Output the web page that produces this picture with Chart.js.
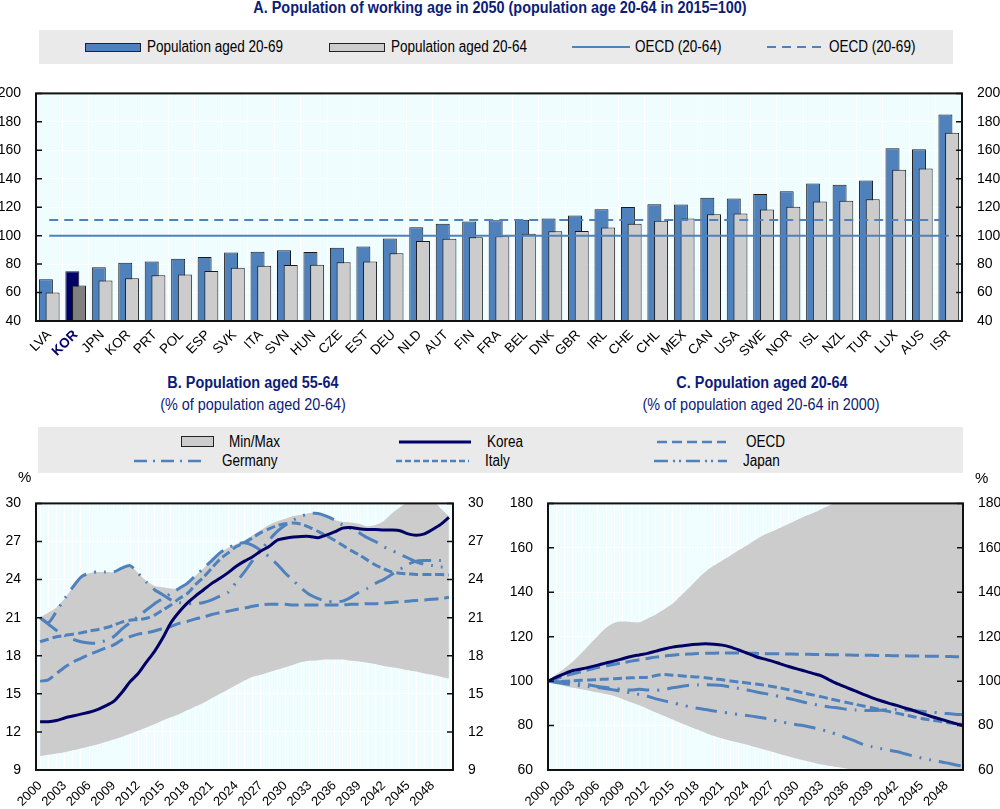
<!DOCTYPE html>
<html>
<head>
<meta charset="utf-8">
<title>Working-age population</title>
<script src="https://cdn.jsdelivr.net/npm/chart.js@4.4.1/dist/chart.umd.min.js"></script>
<style>
  body { margin: 0; background: #fff; }
  #page { position: relative; width: 1000px; height: 809px; overflow: hidden;
          font-family: 'Liberation Sans', Arial, sans-serif; }
  .abs { position: absolute; }
  .title { color: #0c1c78; font-weight: bold; font-size: 16px; text-align: center; white-space: nowrap;
           line-height: 18px; transform: scaleX(0.9); }
  .sub { color: #0c1c78; font-size: 16px; text-align: center; white-space: nowrap; line-height: 18px;
         transform: scaleX(0.9); }
  .legbox { background: #eaeaea; }
  .lt { font-size: 16px; line-height: 18px; color: #000; white-space: nowrap;
        transform: scaleX(0.845); transform-origin: left center; }
  .pct { font-size: 15px; line-height: 18px; color: #000; }
  canvas { position: absolute; }
</style>
</head>
<body>
<div id="page">
  <div class="abs title" style="left:0;top:-1px;width:1000px">A. Population of working age in 2050 (population age 20-64 in 2015=100)</div>

  <div class="abs legbox" style="left:39px;top:30px;width:914px;height:34px"></div>
  <div class="abs" style="left:85px;top:43px;width:54px;height:7px;background:#4f81bd;border:1px solid #222"></div>
  <div class="abs lt" style="left:147px;top:38px">Population aged 20-69</div>
  <div class="abs" style="left:329px;top:43px;width:54px;height:7px;background:#cccccc;border:1px solid #222"></div>
  <div class="abs lt" style="left:391px;top:38px">Population aged 20-64</div>
  <svg class="abs" style="left:572px;top:42px" width="58" height="10"><line x1="0" y1="5" x2="58" y2="5" stroke="#4f81bd" stroke-width="2"/></svg>
  <div class="abs lt" style="left:635px;top:38px">OECD (20-64)</div>
  <svg class="abs" style="left:767px;top:42px" width="54" height="10"><line x1="0" y1="5" x2="54" y2="5" stroke="#4f81bd" stroke-width="2" stroke-dasharray="9,6"/></svg>
  <div class="abs lt" style="left:829px;top:38px">OECD (20-69)</div>

  <canvas id="chartA" width="1000" height="290" style="left:0;top:70px"></canvas>

  <div class="abs title" style="left:3px;top:374px;width:500px">B. Population aged 55-64</div>
  <div class="abs sub" style="left:3px;top:396px;width:500px">(% of population aged 20-64)</div>
  <div class="abs title" style="left:512px;top:374px;width:500px">C. Population aged 20-64</div>
  <div class="abs sub" style="left:511px;top:396px;width:500px">(% of population aged 20-64 in 2000)</div>

  <div class="abs legbox" style="left:38px;top:427px;width:925px;height:46px"></div>
  <div class="abs" style="left:181px;top:436px;width:31px;height:9px;background:#cccccc;border:1px solid #222"></div>
  <div class="abs lt" style="left:229px;top:433px">Min/Max</div>
  <svg class="abs" style="left:399px;top:437px" width="72" height="10"><line x1="0" y1="5" x2="72" y2="5" stroke="#000066" stroke-width="3"/></svg>
  <div class="abs lt" style="left:487px;top:433px">Korea</div>
  <svg class="abs" style="left:657px;top:437px" width="69" height="10"><line x1="0" y1="5" x2="69" y2="5" stroke="#4f81bd" stroke-width="2.5" stroke-dasharray="10,5"/></svg>
  <div class="abs lt" style="left:746px;top:433px">OECD</div>
  <svg class="abs" style="left:134px;top:456px" width="72" height="10"><line x1="0" y1="5" x2="72" y2="5" stroke="#4f81bd" stroke-width="2.5" stroke-dasharray="13,6,2,6"/></svg>
  <div class="abs lt" style="left:222px;top:452px">Germany</div>
  <svg class="abs" style="left:396px;top:456px" width="73" height="10"><line x1="0" y1="5" x2="73" y2="5" stroke="#4f81bd" stroke-width="2.5" stroke-dasharray="6,3"/></svg>
  <div class="abs lt" style="left:485px;top:452px">Italy</div>
  <svg class="abs" style="left:654px;top:456px" width="73" height="10"><line x1="0" y1="5" x2="73" y2="5" stroke="#4f81bd" stroke-width="2.5" stroke-dasharray="14,5,2,4,2,5"/></svg>
  <div class="abs lt" style="left:743px;top:452px">Japan</div>

  <canvas id="chartB" width="500" height="329" style="left:0;top:480px"></canvas>
  <canvas id="chartC" width="500" height="329" style="left:500px;top:480px"></canvas>
  <div class="abs pct" style="left:18px;top:468px">%</div>
  <div class="abs pct" style="left:975px;top:469px">%</div>
</div>

<script>
const FONT = "'Liberation Sans', Arial, sans-serif";
const BLUE = '#4f81bd';
const NAVY = '#000066';
const GREY = '#cccccc';

// Panel A: working-age population in 2050 (20-64 in 2015 = 100)
const countries = ['LVA', 'KOR', 'JPN', 'KOR', 'PRT', 'POL', 'ESP', 'SVK', 'ITA', 'SVN', 'HUN', 'CZE',
  'EST', 'DEU', 'NLD', 'AUT', 'FIN', 'FRA', 'BEL', 'DNK', 'GBR', 'IRL', 'CHE', 'CHL', 'MEX', 'CAN',
  'USA', 'SWE', 'NOR', 'ISL', 'NZL', 'TUR', 'LUX', 'AUS', 'ISR'];
const pop2069 = [69.3, 74.9, 77.8, 81.0, 81.9, 83.7, 85.0, 88.2, 88.7, 89.8, 88.5, 91.5,
  92.4, 98.0, 105.9, 108.3, 109.9, 110.9, 111.2, 112.0, 114.2, 118.6, 120.1, 122.1, 121.9, 126.7,
  126.2, 129.3, 131.2, 136.7, 135.8, 138.7, 161.4, 160.7, 185.2];
const pop2064 = [60.0, 65.0, 68.4, 70.1, 72.1, 72.7, 75.1, 77.5, 78.9, 79.3, 79.5, 81.3,
  81.9, 87.6, 96.3, 97.8, 98.9, 99.6, 101.3, 103.1, 103.3, 105.7, 108.3, 110.5, 112.1, 115.1,
  115.5, 118.4, 120.3, 124.0, 124.5, 125.6, 146.3, 147.2, 172.3];
const oecd2064 = 100;
const oecd2069 = 111;
const highlightIdx = 1; // the highlighted Korea bar

// Panels B and C: yearly projections
const years = [2000, 2001, 2002, 2003, 2004, 2005, 2006, 2007, 2008, 2009,
  2010, 2011, 2012, 2013, 2014, 2015, 2016, 2017, 2018, 2019,
  2020, 2021, 2022, 2023, 2024, 2025, 2026, 2027, 2028, 2029,
  2030, 2031, 2032, 2033, 2034, 2035, 2036, 2037, 2038, 2039,
  2040, 2041, 2042, 2043, 2044, 2045, 2046, 2047, 2048, 2049, 2050];

// B. 55-64 as % of 20-64
const bMax = [21.0, 21.4, 21.8, 22.5, 23.4, 24.2, 24.5, 24.6, 24.6, 24.6,
  24.9, 25.1, 24.5, 23.9, 23.5, 23.4, 23.3, 23.3, 23.6, 24.3,
  24.9, 25.5, 26.1, 26.5, 26.8, 27.1, 27.5, 27.9, 28.3, 28.6,
  28.8, 29.0, 29.1, 29.25, 29.25, 29.0, 28.7, 28.55, 28.5, 28.4,
  28.2, 28.3, 28.6, 29.2, 29.7, 30.1, 30.4, 30.5, 30.3, 29.6, 29.0];
const bMin = [10.1, 10.2, 10.3, 10.4, 10.55, 10.7, 10.85, 11.0, 11.2, 11.4,
  11.6, 11.85, 12.1, 12.35, 12.6, 12.9, 13.15, 13.4, 13.7, 14.0,
  14.3, 14.65, 15.0, 15.35, 15.7, 16.05, 16.35, 16.5, 16.7, 16.9,
  17.1, 17.3, 17.5, 17.6, 17.65, 17.7, 17.7, 17.7, 17.6, 17.55,
  17.45, 17.35, 17.2, 17.1, 17.0, 16.85, 16.75, 16.6, 16.5, 16.35, 16.2];
const bKorea = [12.8, 12.8, 12.9, 13.1, 13.25, 13.4, 13.55, 13.75, 14.05, 14.4,
  15.1, 15.95, 16.6, 17.5, 18.35, 19.4, 20.6, 21.45, 22.15, 22.7,
  23.2, 23.7, 24.1, 24.55, 25.05, 25.45, 25.8, 26.25, 26.6, 27.1,
  27.25, 27.35, 27.4, 27.4, 27.3, 27.5, 27.75, 28.05, 28.1, 28.0,
  27.95, 27.95, 27.9, 27.9, 27.85, 27.6, 27.5, 27.6, 27.95, 28.35, 28.9];
const bOecd = [16.0, 16.1, 16.6, 17.1, 17.5, 17.8, 18.1, 18.35, 18.6, 18.85,
  19.25, 19.5, 19.7, 19.8, 19.95, 20.15, 20.3, 20.55, 20.7, 20.9,
  21.05, 21.25, 21.4, 21.5, 21.65, 21.75, 21.9, 22.0, 22.05, 22.05,
  22.05, 22.0, 22.0, 22.0, 22.0, 22.0, 22.0, 22.0, 22.05, 22.05,
  22.1, 22.1, 22.15, 22.2, 22.25, 22.3, 22.35, 22.4, 22.45, 22.5, 22.6];
const bGermany = [21.0, 20.5, 20.0, 19.6, 19.3, 19.1, 19.0, 19.0, 19.2, 19.5,
  20.1, 20.6, 21.1, 21.6, 22.1, 22.5, 22.9, 23.3, 23.7, 24.3,
  24.9, 25.5, 26.1, 26.5, 26.8, 26.9, 26.7, 26.3, 25.8, 25.2,
  24.5, 23.9, 23.3, 22.8, 22.5, 22.3, 22.25, 22.3, 22.6, 23.0,
  23.3, 23.7, 24.0, 24.4, 24.8, 25.2, 25.45, 25.5, 25.5, 25.5, 25.5];
const bItaly = [19.1, 19.3, 19.5, 19.6, 19.7, 19.8, 19.95, 20.05, 20.2, 20.4,
  20.65, 20.8, 20.85, 20.95, 21.2, 21.6, 22.0, 22.5, 22.9, 23.6,
  24.2, 24.9, 25.6, 26.1, 26.6, 26.9, 27.3, 27.7, 28.0, 28.25,
  28.4, 28.45, 28.35, 28.1, 27.8, 27.45, 27.1, 26.7, 26.3, 25.95,
  25.55, 25.15, 24.85, 24.6, 24.5, 24.45, 24.4, 24.4, 24.4, 24.4, 24.35];
const bJapan = [21.0, 20.6, 21.5, 22.5, 23.4, 24.2, 24.5, 24.6, 24.6, 24.6,
  24.9, 25.1, 24.5, 23.8, 23.2, 22.8, 22.4, 22.2, 22.1, 22.1,
  22.2, 22.4, 22.7, 23.0, 23.8, 24.6, 25.5, 26.3, 27.1, 27.8,
  28.3, 28.7, 29.0, 29.2, 29.2, 29.0, 28.7, 28.3, 28.0, 27.7,
  27.3, 27.0, 26.6, 26.3, 26.0, 25.7, 25.4, 25.2, 25.1, 25.0, 25.0];

// C. 20-64 population, 2000 = 100
const cMax = [100, 103.0, 105.8, 108.8, 112.5, 116.5, 120.3, 124.0, 126.3, 126.8,
  126.6, 126.5, 128.2, 130.0, 132.3, 134.8, 138.4, 142.0, 145.9, 149.4,
  152.0, 154.3, 156.5, 159.0, 161.2, 163.6, 165.8, 167.3, 169.0, 170.8,
  172.5, 174.3, 175.8, 177.5, 179.3, 181.0, 182.6, 184.1, 185.5, 186.9,
  188.2, 189.4, 190.6, 191.7, 192.8, 193.8, 194.8, 195.7, 196.6, 197.4, 198.2];
const cMin = [100, 98.8, 97.8, 97.0, 96.3, 95.6, 94.9, 94.2, 93.3, 91.9,
  90.5, 89.1, 87.5, 85.9, 84.3, 82.7, 81.1, 79.6, 78.2, 76.7,
  75.3, 74.2, 73.2, 72.3, 71.4, 70.3, 69.2, 68.2, 67.1, 66.1,
  65.1, 64.2, 63.3, 62.5, 61.8, 61.2, 60.6, 60.2, 59.9, 59.6,
  59.3, 59.0, 58.7, 58.4, 58.1, 57.8, 57.5, 57.2, 56.9, 56.6, 56.3];
const cKorea = [100, 101.8, 103.4, 104.8, 105.5, 106.3, 107.2, 108.2, 109.1, 110.1,
  111.1, 111.8, 112.5, 113.5, 114.5, 115.3, 115.8, 116.3, 116.6, 116.8,
  116.6, 116.2, 115.3, 114.0, 112.6, 111.1, 110.0, 109.0, 107.8, 106.6,
  105.5, 104.5, 103.4, 102.3, 100.4, 98.6, 97.1, 95.6, 94.0, 92.6,
  91.3, 90.1, 89.1, 87.9, 86.8, 85.5, 84.3, 83.2, 82.1, 81.0, 80.0];
const cOecd = [100, 101.2, 102.3, 103.3, 104.3, 105.2, 106.1, 106.9, 107.6, 108.3,
  109.0, 109.6, 110.2, 110.8, 111.3, 111.7, 112.0, 112.2, 112.4, 112.5,
  112.6, 112.7, 112.7, 112.7, 112.6, 112.5, 112.4, 112.3, 112.3, 112.2,
  112.1, 112.1, 112.0, 112.0, 111.9, 111.9, 111.8, 111.7, 111.7, 111.6,
  111.5, 111.5, 111.4, 111.4, 111.3, 111.3, 111.2, 111.2, 111.1, 111.0, 110.9];
const cGermany = [100, 99.8, 99.5, 99.2, 98.8, 98.3, 97.6, 97.1, 96.7, 96.2,
  96.0, 96.3, 96.0, 95.9, 96.3, 97.0, 97.6, 98.1, 98.3, 98.4,
  98.3, 98.0, 97.4, 96.7, 96.0, 95.2, 94.5, 93.8, 93.0, 92.2,
  91.3, 90.4, 89.6, 88.9, 88.3, 87.9, 87.3, 87.0, 86.8, 86.8,
  86.9, 87.1, 87.2, 87.0, 86.8, 86.4, 86.1, 85.8, 85.4, 85.1, 84.9];
const cItaly = [100, 99.8, 99.9, 100.2, 100.4, 100.5, 100.7, 100.9, 101.1, 101.3,
  101.5, 101.6, 101.7, 102.5, 103.0, 102.7, 102.4, 102.1, 101.9, 101.5,
  101.0, 100.6, 100.1, 99.6, 99.2, 98.7, 98.2, 97.6, 96.9, 96.1,
  95.3, 94.5, 93.7, 92.9, 92.0, 91.2, 90.4, 89.6, 88.8, 88.0,
  87.2, 86.4, 85.6, 84.8, 84.0, 83.2, 82.6, 82.0, 81.4, 80.9, 80.5];
const cJapan = [100, 99.4, 98.8, 98.3, 97.9, 97.5, 97.1, 96.6, 96.0, 95.4,
  94.7, 94.0, 93.2, 92.0, 91.1, 90.3, 89.4, 88.5, 87.8, 87.2,
  86.6, 86.0, 85.5, 85.0, 84.5, 84.0, 83.4, 82.6, 81.8, 81.0,
  80.4, 79.8, 79.0, 78.1, 77.0, 75.8, 74.5, 73.0, 71.5, 70.5,
  69.7, 69.0, 68.3, 67.3, 66.3, 65.4, 64.6, 63.9, 63.2, 62.4, 61.7];

Chart.defaults.font.family = FONT;
Chart.defaults.font.size = 14;
Chart.defaults.color = '#000';
Chart.defaults.animation = false;
Chart.defaults.plugins.legend.display = false;
Chart.defaults.plugins.tooltip.enabled = false;

// light cyan plot background, then black frame and inward ticks on both sides
const frame = {
  id: 'frame',
  beforeDraw(chart) {
    const { ctx, chartArea: a } = chart;
    ctx.save();
    ctx.fillStyle = '#f0fdff';
    ctx.fillRect(a.left, a.top, a.width, a.height);
    ctx.restore();
  },
  afterDatasetsDraw(chart) {
    const { ctx, chartArea: a } = chart;
    const ys = chart.scales.y;
    ctx.save();
    ctx.strokeStyle = '#111';
    ctx.lineWidth = 1.5;
    ys.ticks.forEach(t => {
      const py = ys.getPixelForValue(t.value);
      ctx.beginPath();
      ctx.moveTo(a.left, py); ctx.lineTo(a.left + 6, py);
      ctx.moveTo(a.right - 6, py); ctx.lineTo(a.right, py);
      ctx.stroke();
    });
    ctx.lineWidth = 2;
    ctx.strokeRect(a.left, a.top, a.width, a.height);
    ctx.restore();
  }
};

// the 20-64 bars sit half over the 20-69 bars
const greyOnTop = {
  id: 'greyOnTop',
  beforeDatasetDraw(chart, args) {
    if (args.index === 1) return false;
  },
  afterDatasetDraw(chart, args) {
    if (args.index !== 0) return;
    const { ctx, chartArea: a } = chart;
    ctx.save();
    ctx.beginPath();
    ctx.rect(a.left, a.top, a.width, a.height);
    ctx.clip();
    chart.getDatasetMeta(1).controller.draw();
    ctx.restore();
  }
};

function yAxes(min, max, step, leftW, rightW) {
  return {
    y: {
      position: 'left', min, max,
      ticks: { stepSize: step, padding: 15 },
      grid: { color: '#ffffff', drawTicks: false },
      border: { display: false },
      afterFit: s => { s.width = leftW; }
    },
    y1: {
      position: 'right', min, max,
      ticks: { stepSize: step, padding: 15 },
      grid: { drawOnChartArea: false, drawTicks: false },
      border: { display: false },
      afterFit: s => { s.width = rightW; }
    }
  };
}

function yearAxis(offset) {
  return {
    offset,
    grid: { color: '#ffffff', offset: false, drawTicks: false },
    border: { display: false },
    ticks: {
      autoSkip: false, maxRotation: 45, minRotation: 45, padding: 8, font: { size: 13 },
      callback: (v, i) => (years[i] - years[0]) % 3 === 0 ? years[i] : ''
    },
    afterFit: s => { s.height = 39; }
  };
}

const line = (label, data, color, dash, order) => ({
  label, data, borderColor: color, borderWidth: 3, borderDash: dash,
  pointRadius: 0, tension: 0.25, fill: false, order
});

const band = (maxData, minData) => [
  { label: 'Min/Max', data: maxData, fill: '+1', backgroundColor: GREY, borderColor: 'rgba(0,0,0,0)',
    borderWidth: 0, pointRadius: 0, tension: 0.25, order: 9 },
  { label: 'Min', data: minData, fill: false, borderColor: 'rgba(0,0,0,0)',
    borderWidth: 0, pointRadius: 0, tension: 0.25, order: 9 }
];

new Chart(document.getElementById('chartA'), {
  type: 'bar',
  data: {
    labels: countries,
    datasets: [
      { label: 'Population aged 20-69', data: pop2069, order: 1,
        backgroundColor: countries.map((c, i) => i === highlightIdx ? NAVY : BLUE),
        borderColor: '#1a1a1a', borderWidth: 1, categoryPercentage: 0.506, barPercentage: 2.09 },
      { label: 'Population aged 20-64', data: pop2064, order: 1,
        backgroundColor: countries.map((c, i) => i === highlightIdx ? '#808080' : GREY),
        borderColor: '#1a1a1a', borderWidth: 1, categoryPercentage: 0.506, barPercentage: 2.09 },
      { type: 'line', label: 'OECD (20-64)', data: countries.map(() => oecd2064), order: 0,
        borderColor: BLUE, borderWidth: 2, pointRadius: 0 },
      { type: 'line', label: 'OECD (20-69)', data: countries.map(() => oecd2069), order: 0,
        borderColor: BLUE, borderWidth: 2, borderDash: [9, 6], pointRadius: 0 }
    ]
  },
  options: {
    responsive: false,
    layout: { padding: { top: 7 } },
    scales: {
      x: {
        offset: true,
        grid: { color: '#ffffff', offset: true, drawTicks: false },
        border: { display: false },
        ticks: {
          autoSkip: false, maxRotation: 45, minRotation: 45, padding: 6,
          font: ctx => ({ size: 13.5, weight: ctx.index === highlightIdx ? 'bold' : 'normal' }),
          color: ctx => ctx.index === highlightIdx ? NAVY : '#000'
        },
        afterFit: s => { s.height = 39; }
      },
      ...yAxes(40, 200, 20, 36, 38)
    }
  },
  plugins: [frame, greyOnTop]
});

new Chart(document.getElementById('chartB'), {
  type: 'line',
  data: {
    labels: years,
    datasets: [
      ...band(bMax, bMin),
      line('OECD', bOecd, BLUE, [14, 6], 3),
      line('Italy', bItaly, BLUE, [9, 4], 3),
      line('Germany', bGermany, BLUE, [22, 8, 2, 8], 2),
      line('Japan', bJapan, BLUE, [22, 8, 2, 8, 2, 8], 2),
      line('Korea', bKorea, NAVY, [], 0)
    ]
  },
  options: {
    responsive: false,
    layout: { padding: { top: 13 } },
    scales: { x: yearAxis(true), ...yAxes(9, 30, 3, 36, 47) }
  },
  plugins: [frame]
});

new Chart(document.getElementById('chartC'), {
  type: 'line',
  data: {
    labels: years,
    datasets: [
      ...band(cMax, cMin),
      line('OECD', cOecd, BLUE, [14, 6], 3),
      line('Italy', cItaly, BLUE, [9, 4], 3),
      line('Germany', cGermany, BLUE, [22, 8, 2, 8], 2),
      line('Japan', cJapan, BLUE, [22, 8, 2, 8, 2, 8], 2),
      line('Korea', cKorea, NAVY, [], 0)
    ]
  },
  options: {
    responsive: false,
    layout: { padding: { top: 13 } },
    scales: { x: yearAxis(false), ...yAxes(60, 180, 20, 48, 37) }
  },
  plugins: [frame]
});
</script>
</body>
</html>
